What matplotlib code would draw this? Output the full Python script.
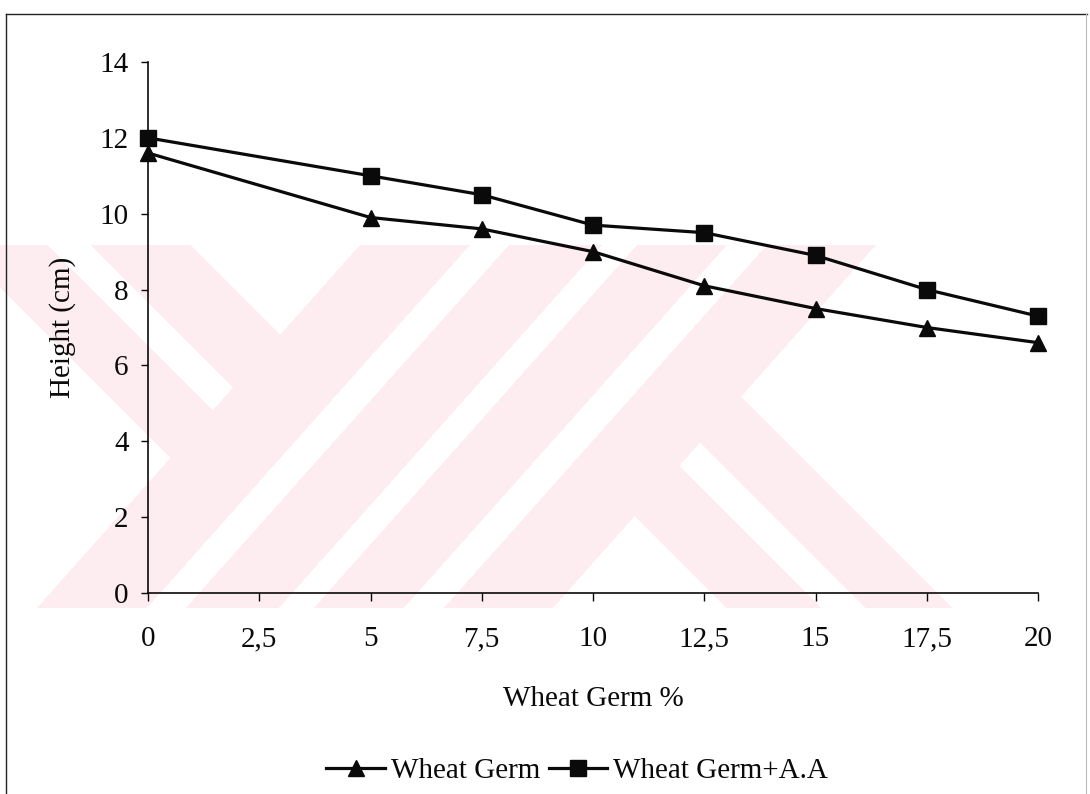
import numpy as np
import matplotlib
matplotlib.use("Agg")
import matplotlib.pyplot as plt
from matplotlib.lines import Line2D

# Data: plant height (cm) against wheat germ level (%)
germ_pct = [0, 5, 7.5, 10, 12.5, 15, 17.5, 20]
height_wg = [11.6, 9.9, 9.6, 9.0, 8.1, 7.5, 7.0, 6.6]
height_wg_aa = [12.0, 11.0, 10.5, 9.7, 9.5, 8.9, 8.0, 7.3]
series_names = ["Wheat Germ", "Wheat Germ+A.A"]

x_ticks = [0, 2.5, 5, 7.5, 10, 12.5, 15, 17.5, 20]
x_tick_labels = ["0", "2,5", "5", "7,5", "10", "12,5", "15", "17,5", "20"]
y_ticks = [0, 2, 4, 6, 8, 10, 12, 14]

W, H, DPI = 1090, 794, 100
plt.rcParams["font.family"] = ["Liberation Serif", "DejaVu Serif"]
FS = 21
INK = "#0a0a0a"

fig = plt.figure(figsize=(W / DPI, H / DPI), dpi=DPI, facecolor="white")

# Pale striped emblem in the page background
yy, xx = np.mgrid[0:H, 0:W] + 0.5
u = xx + 0.89 * yy
v = xx - yy
band = (yy >= 245) & (yy <= 608)
left = u < 578
mid = (u >= 578) & (u < 1094)
right = u >= 1094
pink_l = left & (((v >= -287) & (v < -197)) | ((v >= -154) & (v < -54)))
pink_m = mid & ~((u >= 688) & (u < 727)) & ~((u >= 820) & (u < 855)) & ~((u >= 945) & (u < 985))
pink_r = right & (((v >= 119) & (v < 214)) | ((v >= 258) & (v < 345)))
mask = band & (pink_l | pink_m | pink_r)
emblem = np.zeros((H, W, 4))
emblem[..., 0] = 253 / 255
emblem[..., 1] = 236 / 255
emblem[..., 2] = 240 / 255
emblem[..., 3] = mask.astype(float)
fig.figimage(emblem, xo=0, yo=0, origin="upper", zorder=-5)

# Page frame
fig.add_artist(Line2D([6 / W, 1087 / W], [1 - 14 / H, 1 - 14 / H], transform=fig.transFigure,
                      color="#222222", lw=1.0))
fig.add_artist(Line2D([6 / W, 6 / W], [1 - 14 / H, 0], transform=fig.transFigure,
                      color="#222222", lw=1.0))
fig.add_artist(Line2D([1086 / W, 1086 / W], [1 - 14 / H, 0], transform=fig.transFigure,
                      color="#bbbbbb", lw=0.8))

ax = fig.add_axes([148 / W, 1 - 593 / H, (1038 - 148) / W, (593 - 62) / H])
ax.set_facecolor("none")

ax.plot(germ_pct, height_wg, color=INK, lw=2.3, marker="^", ms=12,
        clip_on=False, zorder=3, label=series_names[0])
ax.plot(germ_pct, height_wg_aa, color=INK, lw=2.3, marker="s", ms=11,
        clip_on=False, zorder=3, label=series_names[1])

ax.set_xlim(0, 20)
ax.set_ylim(0, 14)
ax.set_xticks(x_ticks)
ax.set_xticklabels(x_tick_labels)
ax.set_yticks(y_ticks)

for s in ("top", "right"):
    ax.spines[s].set_visible(False)
for s in ("left", "bottom"):
    ax.spines[s].set_color(INK)
    ax.spines[s].set_linewidth(1.2)

ax.tick_params(axis="x", direction="out", length=6, width=1.0, pad=18,
               labelsize=FS, colors=INK)
ax.tick_params(axis="y", direction="out", length=5, width=1.0, pad=9,
               labelsize=FS, colors=INK)

ax.set_xlabel("Wheat Germ %", fontsize=FS, labelpad=24, color=INK)
ax.set_ylabel("Height (cm)", fontsize=FS, labelpad=17, color=INK)

fig.legend(loc="center", bbox_to_anchor=(577 / W, 1 - 771 / H), ncol=2, frameon=False,
           fontsize=FS, handlelength=2.0, handletextpad=0.2, columnspacing=0.3,
           borderaxespad=0, labelcolor=INK)

fig.savefig("out.png", dpi=DPI, facecolor="white")
